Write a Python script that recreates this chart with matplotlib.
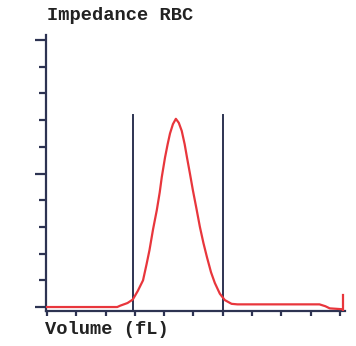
import numpy as np
import matplotlib
matplotlib.use('Agg')
import matplotlib.pyplot as plt

# histogram (x in tick units, y in tick units)
vol = [-0.1, 0.5, 1.0, 1.5, 2.0, 2.4, 2.5, 2.75, 2.93, 3.1, 3.28, 3.4, 3.5, 3.62,
       3.75, 3.85, 3.92, 4.03, 4.12, 4.2, 4.3, 4.4, 4.5, 4.6, 4.7, 4.78, 4.88,
       4.98, 5.1, 5.22, 5.34, 5.46, 5.6, 5.73, 5.9, 6.07, 6.3, 6.5, 7.5, 8.5,
       9.3, 9.5, 9.65, 10.05]
count = [0.0, 0.0, 0.0, 0.0, 0.0, 0.0, 0.05, 0.15, 0.28, 0.6, 1.0, 1.6, 2.13, 2.9,
         3.63, 4.3, 4.87, 5.6, 6.1, 6.5, 6.85, 7.05, 6.9, 6.6, 6.1, 5.6, 5.0,
         4.38, 3.7, 3.0, 2.4, 1.87, 1.3, 0.9, 0.5, 0.26, 0.12, 0.1, 0.1, 0.1,
         0.1, 0.03, -0.05, -0.08]
spike_x = 10.1
spike_top = 0.45
gates = [2.95, 6.0]
gate_top = 7.2

title = 'Impedance RBC'
xlabel = 'Volume (fL)'

axis_col = '#2d3352'
red = '#e8363c'

fig = plt.figure(figsize=(3.56, 3.46), dpi=100)
W, H = 356, 346
ax = fig.add_axes([46 / W, 1 - 310.5 / H, (345 - 46) / W, (310.5 - 35) / H])

ax.plot(vol, count, color=red, lw=1.6, zorder=3)
ax.plot([spike_x, spike_x], [-0.12, spike_top], color=red, lw=1.6, zorder=3)
for g in gates:
    ax.plot([g, g], [-0.12, gate_top], color=axis_col, lw=1.4, zorder=2)

ax.set_xlim(-0.03, 10.17)
ax.set_ylim(-0.13, 10.19)
for s in ['top', 'right']:
    ax.spines[s].set_visible(False)
for s in ['left', 'bottom']:
    ax.spines[s].set_color(axis_col)
    ax.spines[s].set_linewidth(1.6)

ax.set_xticks(np.arange(0, 11))
ax.set_yticks([0, 5, 10])
ax.set_yticks(np.arange(0, 11), minor=True)
ax.tick_params(axis='x', length=3.5, width=1.6, color=axis_col, labelbottom=False)
ax.tick_params(axis='y', which='major', length=8, width=1.6, color=axis_col, labelleft=False)
ax.tick_params(axis='y', which='minor', length=5, width=1.6, color=axis_col)

font = dict(family='Liberation Mono', weight='bold', size=13.5, color='#222222')
fig.text(47 / W, 1 - 15 / H, title, ha='left', va='center', **font)
fig.text(45 / W, 1 - 330 / H, xlabel, ha='left', va='center', **font)

fig.savefig('out.png', dpi=100, facecolor='white')
